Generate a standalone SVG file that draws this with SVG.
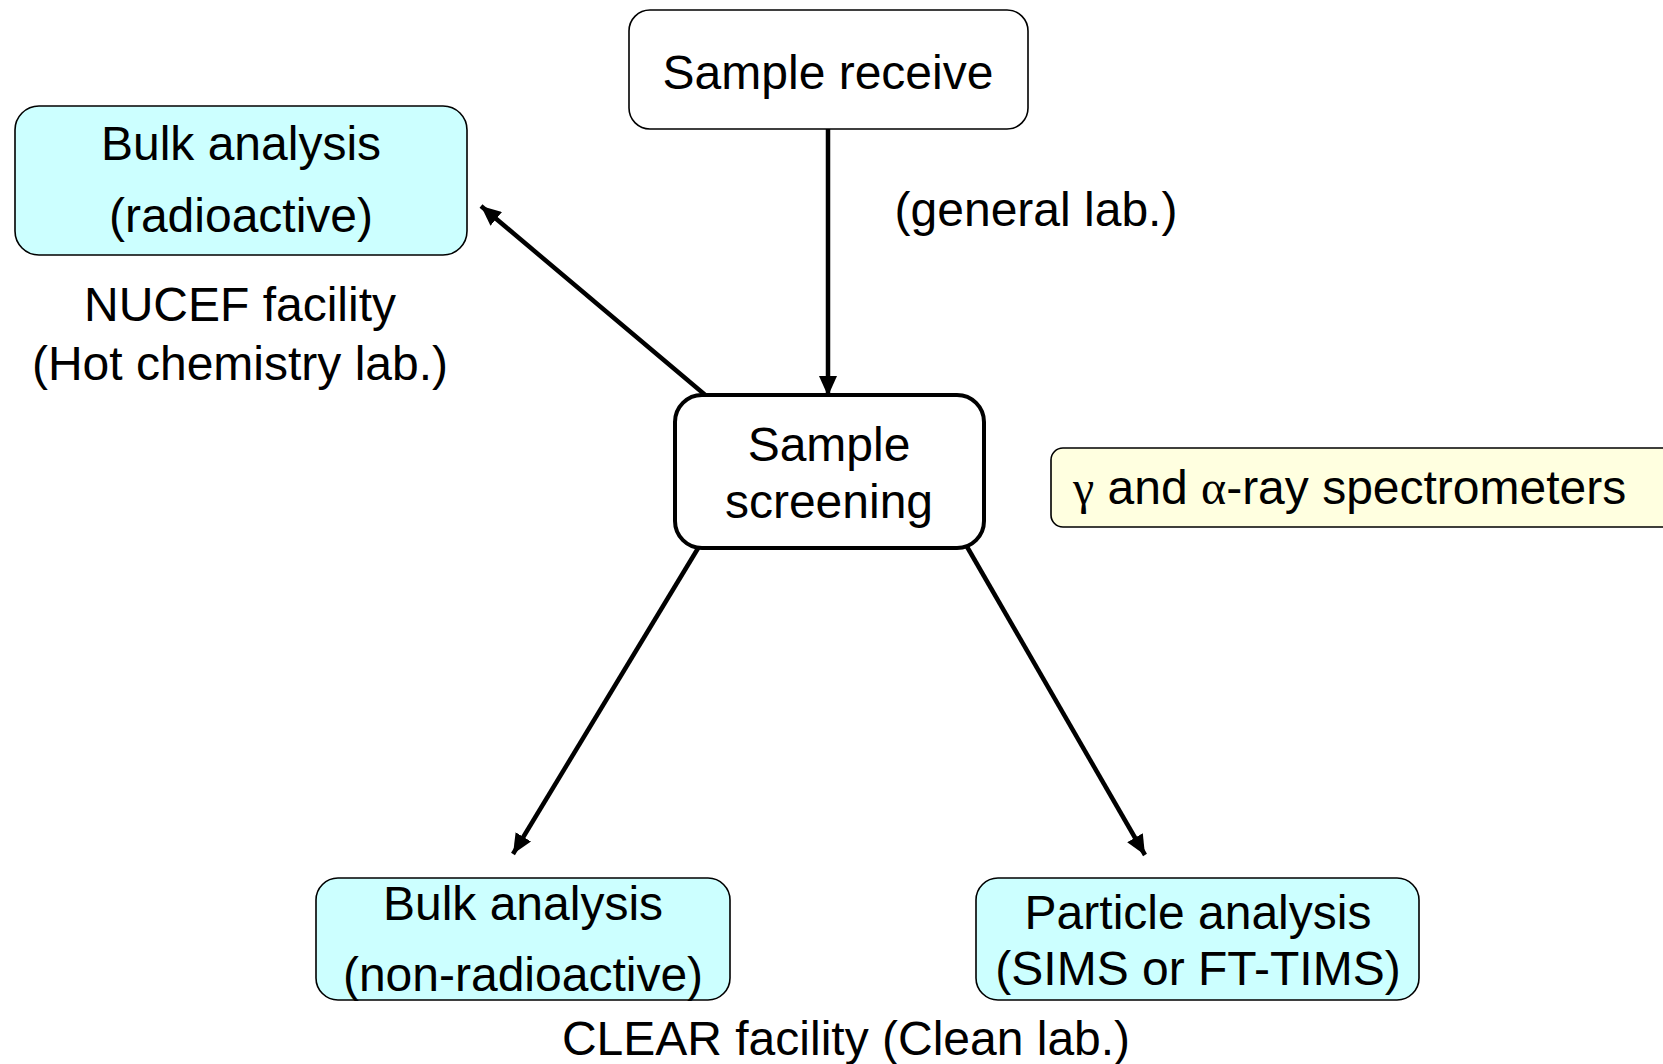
<svg xmlns="http://www.w3.org/2000/svg" width="1663" height="1064" viewBox="0 0 1663 1064">
<style>
text{font-family:"Liberation Sans",Arial,sans-serif;font-size:48px;fill:#000;text-anchor:middle}
.greek{font-family:"Liberation Serif","Times New Roman",serif}
.thin{stroke:#000;stroke-width:1.6}
.cyan{fill:#CCFFFF}
.conn{stroke:#000;stroke-width:4.5;fill:none}
</style>
<defs>
<marker id="ah" markerUnits="userSpaceOnUse" markerWidth="22" markerHeight="18" refX="20" refY="9" orient="auto">
<path d="M0,0 L20,9 L0,18 Z" fill="#000"/>
</marker>
</defs>
<rect width="1663" height="1064" fill="#fff"/>
<g id="connectors">
<line class="conn" x1="828" y1="129" x2="828" y2="396" marker-end="url(#ah)"/>
<line class="conn" x1="710" y1="399" x2="481" y2="206" marker-end="url(#ah)"/>
<line class="conn" x1="700" y1="545" x2="513" y2="854" marker-end="url(#ah)"/>
<line class="conn" x1="966" y1="545" x2="1145" y2="855" marker-end="url(#ah)"/>
</g>
<g id="sample-receive">
<rect class="thin" x="629" y="10" width="399" height="119" rx="21" fill="#fff"/>
<text x="828" y="89">Sample receive</text>
</g>
<g id="general-lab">
<text x="1036" y="226">(general lab.)</text>
</g>
<g id="bulk-radioactive">
<rect class="thin cyan" x="15" y="106" width="452" height="149" rx="24"/>
<text x="241" y="160">Bulk analysis</text>
<text x="241" y="232">(radioactive)</text>
</g>
<g id="nucef">
<text x="240" y="321">NUCEF facility</text>
<text x="240" y="380">(Hot chemistry lab.)</text>
</g>
<g id="sample-screening">
<rect x="675" y="395" width="309" height="153" rx="27" fill="#fff" stroke="#000" stroke-width="4"/>
<text x="829" y="461">Sample</text>
<text x="829" y="518">screening</text>
</g>
<g id="spectrometers">
<rect class="thin" x="1051" y="448" width="640" height="79" rx="12" fill="#FFFFE0"/>
<text x="1073" y="504" style="text-anchor:start"><tspan class="greek">γ</tspan> and <tspan class="greek">α</tspan>-ray spectrometers</text>
</g>
<g id="bulk-nonradioactive">
<rect class="thin cyan" x="316" y="878" width="414" height="122" rx="22"/>
<text x="523" y="920">Bulk analysis</text>
<text x="523" y="991">(non-radioactive)</text>
</g>
<g id="particle">
<rect class="thin cyan" x="976" y="878" width="443" height="122" rx="22"/>
<text x="1198" y="929">Particle analysis</text>
<text x="1198" y="985">(SIMS or FT-TIMS)</text>
</g>
<g id="clear">
<text x="846" y="1055">CLEAR facility (Clean lab.)</text>
</g>
</svg>
